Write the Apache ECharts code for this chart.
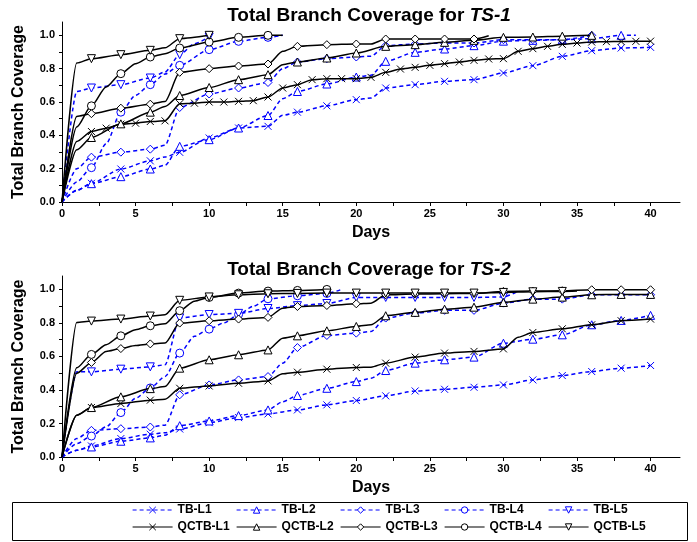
<!DOCTYPE html>
<html>
<head>
<meta charset="utf-8">
<script src="https://cdn.jsdelivr.net/npm/echarts@6/dist/echarts.min.js"></script>
<style>
  html, body { margin: 0; padding: 0; background: #fff; }
  #chart { width: 697px; height: 542px; }
</style>
</head>
<body>
<div id="chart"></div>
<script>
// 每條線: [天數, 覆蓋率]
var ts1TB1 = [[0,0],[1,0.07],[2,0.112],[4,0.198],[6,0.247],[7,0.27],[8,0.298],[10,0.384],[12,0.444],[14,0.454],[15,0.52],[16,0.539],[18,0.577],[20,0.614],[21,0.624],[22,0.684],[24,0.704],[26,0.724],[28,0.734],[30,0.774],[32,0.818],[34,0.874],[36,0.908],[38,0.924],[40,0.928]];
var ts1TB2 = [[0,0],[1,0.07],[2,0.11],[4,0.152],[6,0.198],[7,0.22],[8,0.334],[10,0.374],[12,0.444],[14,0.519],[15,0.62],[16,0.663],[18,0.708],[20,0.75],[21,0.76],[22,0.844],[24,0.898],[26,0.918],[28,0.938],[30,0.965],[32,0.97],[34,0.974],[36,0.98],[38,1.0],[39,1.0]];
var ts1TB3 = [[0,0],[1,0.2],[2,0.269],[4,0.299],[6,0.317],[7,0.34],[8,0.567],[10,0.648],[12,0.684],[14,0.717],[15,0.8],[16,0.84],[18,0.86],[20,0.87],[21,0.875],[22,0.938],[24,0.948],[26,0.954],[28,0.954],[30,0.974],[32,0.974],[34,0.974],[36,1.0]];
var ts1TB4 = [[0,0],[1,0.12],[2,0.206],[3,0.35],[4,0.539],[5,0.64],[6,0.704],[7,0.768],[8,0.82],[10,0.914],[12,0.964],[14,0.988],[15,1.0]];
var ts1TB5 = [[0,0],[1,0.663],[2,0.684],[4,0.704],[6,0.744],[7,0.78],[8,0.884],[9,0.95],[10,0.99]];
var ts1Q1 = [[0,0],[1,0.363],[2,0.423],[3,0.443],[4,0.467],[5,0.473],[6,0.483],[7,0.487],[8,0.59],[9,0.593],[10,0.6],[11,0.6],[12,0.604],[13,0.608],[14,0.63],[15,0.684],[16,0.704],[17,0.734],[18,0.74],[19,0.74],[20,0.74],[21,0.748],[22,0.778],[23,0.798],[24,0.808],[25,0.82],[26,0.83],[27,0.84],[28,0.85],[29,0.858],[30,0.86],[31,0.904],[32,0.92],[33,0.934],[34,0.946],[35,0.954],[36,0.96],[37,0.962],[38,0.963],[39,0.964],[40,0.965]];
var ts1Q2 = [[0,0],[1,0.313],[2,0.387],[4,0.469],[6,0.539],[7,0.573],[8,0.639],[10,0.687],[12,0.734],[14,0.764],[15,0.824],[16,0.84],[18,0.864],[20,0.894],[22,0.934],[24,0.944],[26,0.958],[28,0.97],[30,0.988],[32,0.99],[34,0.995],[36,1.0]];
var ts1Q3 = [[0,0],[1,0.513],[2,0.53],[4,0.563],[6,0.587],[7,0.603],[8,0.778],[10,0.8],[12,0.816],[14,0.828],[15,0.904],[16,0.934],[18,0.944],[20,0.948],[21,0.948],[22,0.978],[24,0.978],[26,0.978],[28,0.978],[29,0.998]];
var ts1Q4 = [[0,0],[1,0.45],[2,0.577],[3,0.69],[4,0.77],[5,0.83],[6,0.87],[7,0.89],[8,0.924],[10,0.96],[12,0.988],[14,1.0],[15,1.0]];
var ts1Q5 = [[0,0],[1,0.834],[2,0.86],[4,0.884],[6,0.91],[7,0.925],[8,0.98],[10,1.0]];

var ts2TB1 = [[0,0],[1,0.04],[2,0.066],[4,0.11],[6,0.136],[7,0.145],[8,0.167],[10,0.205],[12,0.235],[14,0.257],[16,0.281],[18,0.311],[20,0.337],[22,0.365],[24,0.394],[26,0.404],[28,0.416],[30,0.43],[32,0.46],[34,0.486],[36,0.51],[38,0.53],[40,0.546]];
var ts2TB2 = [[0,0],[1,0.04],[2,0.06],[4,0.094],[6,0.114],[7,0.13],[8,0.187],[10,0.215],[12,0.247],[14,0.281],[15,0.33],[16,0.367],[18,0.41],[20,0.45],[21,0.47],[22,0.516],[24,0.56],[26,0.58],[28,0.596],[30,0.679],[32,0.703],[34,0.729],[36,0.789],[38,0.815],[40,0.845]];
var ts2TB3 = [[0,0],[1,0.11],[2,0.159],[4,0.169],[6,0.179],[7,0.19],[8,0.371],[10,0.43],[12,0.46],[14,0.48],[15,0.56],[16,0.653],[18,0.725],[20,0.739],[21,0.749],[22,0.829],[24,0.859],[26,0.875],[28,0.875],[30,0.918],[32,0.942],[34,0.942],[36,0.968],[38,0.968],[40,0.968]];
var ts2TB4 = [[0,0],[1,0.08],[2,0.125],[3,0.18],[4,0.265],[5,0.35],[6,0.412],[7,0.48],[8,0.62],[9,0.72],[10,0.763],[11,0.8],[12,0.85],[13,0.9],[14,0.944],[16,0.962],[18,0.976],[19,1.0]];
var ts2TB5 = [[0,0],[1,0.508],[2,0.508],[4,0.524],[6,0.538],[7,0.55],[8,0.83],[10,0.85],[12,0.857],[14,0.886],[16,0.903],[18,0.916],[20,0.952],[22,0.952],[24,0.952],[26,0.952],[28,0.952],[30,0.955],[31,0.99]];
var ts2Q1 = [[0,0],[1,0.249],[2,0.295],[4,0.319],[6,0.339],[7,0.345],[8,0.41],[10,0.424],[12,0.44],[14,0.454],[15,0.496],[16,0.506],[18,0.524],[20,0.534],[21,0.536],[22,0.56],[24,0.596],[26,0.62],[28,0.63],[30,0.645],[31,0.715],[32,0.743],[34,0.765],[36,0.789],[38,0.813],[40,0.823]];
var ts2Q2 = [[0,0],[1,0.249],[2,0.295],[4,0.359],[6,0.408],[7,0.42],[8,0.53],[10,0.58],[12,0.61],[14,0.639],[15,0.709],[16,0.723],[18,0.753],[20,0.779],[21,0.789],[22,0.843],[24,0.863],[26,0.882],[28,0.894],[30,0.922],[32,0.942],[34,0.954],[36,0.968],[38,0.97],[40,0.97]];
var ts2Q3 = [[0,0],[1,0.5],[2,0.564],[3,0.63],[4,0.647],[5,0.665],[6,0.675],[7,0.68],[8,0.799],[10,0.813],[12,0.823],[14,0.833],[15,0.888],[16,0.898],[18,0.904],[20,0.914],[21,0.918],[22,0.968],[24,0.972],[26,0.974],[28,0.976],[30,0.988],[32,0.99],[34,0.992],[36,0.998],[38,0.998],[40,0.998]];
var ts2Q4 = [[0,0],[1,0.532],[2,0.612],[3,0.67],[4,0.723],[5,0.76],[6,0.783],[7,0.795],[8,0.873],[9,0.93],[10,0.952],[12,0.978],[14,0.99],[16,0.994],[18,1.0]];
var ts2Q5 = [[0,0],[1,0.803],[2,0.811],[4,0.823],[6,0.841],[7,0.849],[8,0.935],[10,0.955],[12,0.968],[14,0.974],[16,0.976],[18,0.978],[20,0.978],[22,0.978],[24,0.978],[26,0.978],[28,0.978],[30,0.982],[32,0.986],[34,0.988],[35,0.99]];

var seriesNames = ['TB-L1', 'TB-L2', 'TB-L3', 'TB-L4', 'TB-L5', 'QCTB-L1', 'QCTB-L2', 'QCTB-L3', 'QCTB-L4', 'QCTB-L5'];
var ts1Data = [ts1TB1, ts1TB2, ts1TB3, ts1TB4, ts1TB5, ts1Q1, ts1Q2, ts1Q3, ts1Q4, ts1Q5];
var ts2Data = [ts2TB1, ts2TB2, ts2TB3, ts2TB4, ts2TB5, ts2Q1, ts2Q2, ts2Q3, ts2Q4, ts2Q5];

// 刻度
var xLabels = [0, 5, 10, 15, 20, 25, 30, 35, 40];
var xTicks = [0, 2.5, 5, 7.5, 10, 12.5, 15, 17.5, 20, 22.5, 25, 27.5, 30, 32.5, 35, 37.5, 40];
var yLabels = [0, 0.2, 0.4, 0.6, 0.8, 1.0];
var yTicks = [0, 0.1, 0.2, 0.3, 0.4, 0.5, 0.6, 0.7, 0.8, 0.9, 1.0];

var FONT = '"Liberation Sans", Arial, sans-serif';
var BLUE = '#0000ff';
var SYM_X = 'path://M0,0L10,10M10,0L0,10';
var SYM_DOWN = 'path://M0,0L10,0L5,9Z';
var symbols = [SYM_X, 'triangle', 'diamond', 'circle', SYM_DOWN, SYM_X, 'triangle', 'diamond', 'circle', SYM_DOWN];

var chart = echarts.init(document.getElementById('chart'));

function makeSeries(i, data, axisIdx, step) {
  var blue = i < 5;
  var color = blue ? BLUE : '#000000';
  return {
    name: seriesNames[i],
    type: 'line',
    xAxisIndex: axisIdx,
    yAxisIndex: axisIdx,
    //只在偶數天畫記號
    data: data.map(function (p) {
      var mark = p[0] >= 2 && p[0] % step === 0;
      return mark ? { value: p } : { value: p, symbol: 'none' };
    }),
    symbol: symbols[i],
    symbolSize: i % 5 === 0 ? 7 : 8,
    showAllSymbol: true,
    smooth: 0.25,
    smoothMonotone: 'x',
    lineStyle: { color: color, width: 1.5, type: blue ? [4, 3] : 'solid' },
    itemStyle: { color: '#ffffff', borderColor: color, borderWidth: 1 },
    emphasis: { disabled: true },
    z: blue ? 2 : 3
  };
}

function makeXAxis(gridIndex) {
  return {
    type: 'value', gridIndex: gridIndex, min: 0, max: 42,
    name: 'Days', nameLocation: 'middle', nameGap: 23,
    nameTextStyle: { fontFamily: FONT, fontWeight: 'bold', fontSize: 16, color: '#000' },
    axisLine: { lineStyle: { color: '#000', width: 1 } },
    axisTick: { customValues: xTicks, length: 4, lineStyle: { color: '#000' } },
    axisLabel: { customValues: xLabels, margin: 6, fontFamily: FONT, fontWeight: 'bold', fontSize: 11, color: '#000' },
    splitLine: { show: false }
  };
}

function makeYAxis(gridIndex) {
  return {
    type: 'value', gridIndex: gridIndex, min: 0, max: 1.08,
    name: 'Total Branch Coverage', nameLocation: 'middle', nameGap: 35,
    nameTextStyle: { fontFamily: FONT, fontWeight: 'bold', fontSize: 16, color: '#000' },
    axisLine: { show: true, lineStyle: { color: '#000', width: 1 } },
    axisTick: { show: true, customValues: yTicks, length: 3, lineStyle: { color: '#000' } },
    axisLabel: {
      customValues: yLabels, margin: 7, fontFamily: FONT, fontWeight: 'bold', fontSize: 11, color: '#000',
      formatter: function (v) { return v.toFixed(1); }
    },
    splitLine: { show: false }
  };
}

function makeTitle(tag, top) {
  var st = { fontFamily: FONT, fontWeight: 'bold', fontSize: 19, color: '#000' };
  return {
    text: '{a|Total Branch Coverage for }{b|' + tag + '}',
    left: 364, top: top, textAlign: 'center',
    textStyle: { rich: { a: st, b: Object.assign({}, st, { fontStyle: 'italic' }) } }
  };
}

//每個圖例各自放一個legend，位置才對得齊
var legends = seriesNames.map(function (name, i) {
  var color = i < 5 ? BLUE : '#000';
  return {
    data: [name],
    left: 132 + (i % 5) * 104,
    top: i < 5 ? 504 : 521,
    padding: 0,
    itemWidth: 40,
    itemHeight: 8,
    selectedMode: false,
    itemStyle: { color: '#fff', borderColor: color, borderWidth: 1 },
    lineStyle: { color: color, width: 1.2 },
    textStyle: { fontFamily: FONT, fontWeight: 'bold', fontSize: 12, color: '#000' }
  };
});

var series = [];
ts1Data.forEach(function (d, i) { series.push(makeSeries(i, d, 0, i === 5 ? 1 : 2)); });
ts2Data.forEach(function (d, i) { series.push(makeSeries(i, d, 1, 2)); });

option = {
  backgroundColor: '#fff',
  animation: false,
  title: [makeTitle('TS-1', 1), makeTitle('TS-2', 255)],
  grid: [
    { left: 62, right: 17, top: 22, bottom: 340, outerBoundsMode: 'none' },
    { left: 62, right: 17, top: 276, bottom: 85, outerBoundsMode: 'none' }
  ],
  xAxis: [makeXAxis(0), makeXAxis(1)],
  yAxis: [makeYAxis(0), makeYAxis(1)],
  legend: legends,
  graphic: [{
    type: 'rect',
    shape: { x: 12.5, y: 502.5, width: 675, height: 38 },
    style: { fill: null, stroke: '#000', lineWidth: 1 },
    silent: true
  }],
  series: series
};

chart.setOption(option);
</script>
</body>
</html>
